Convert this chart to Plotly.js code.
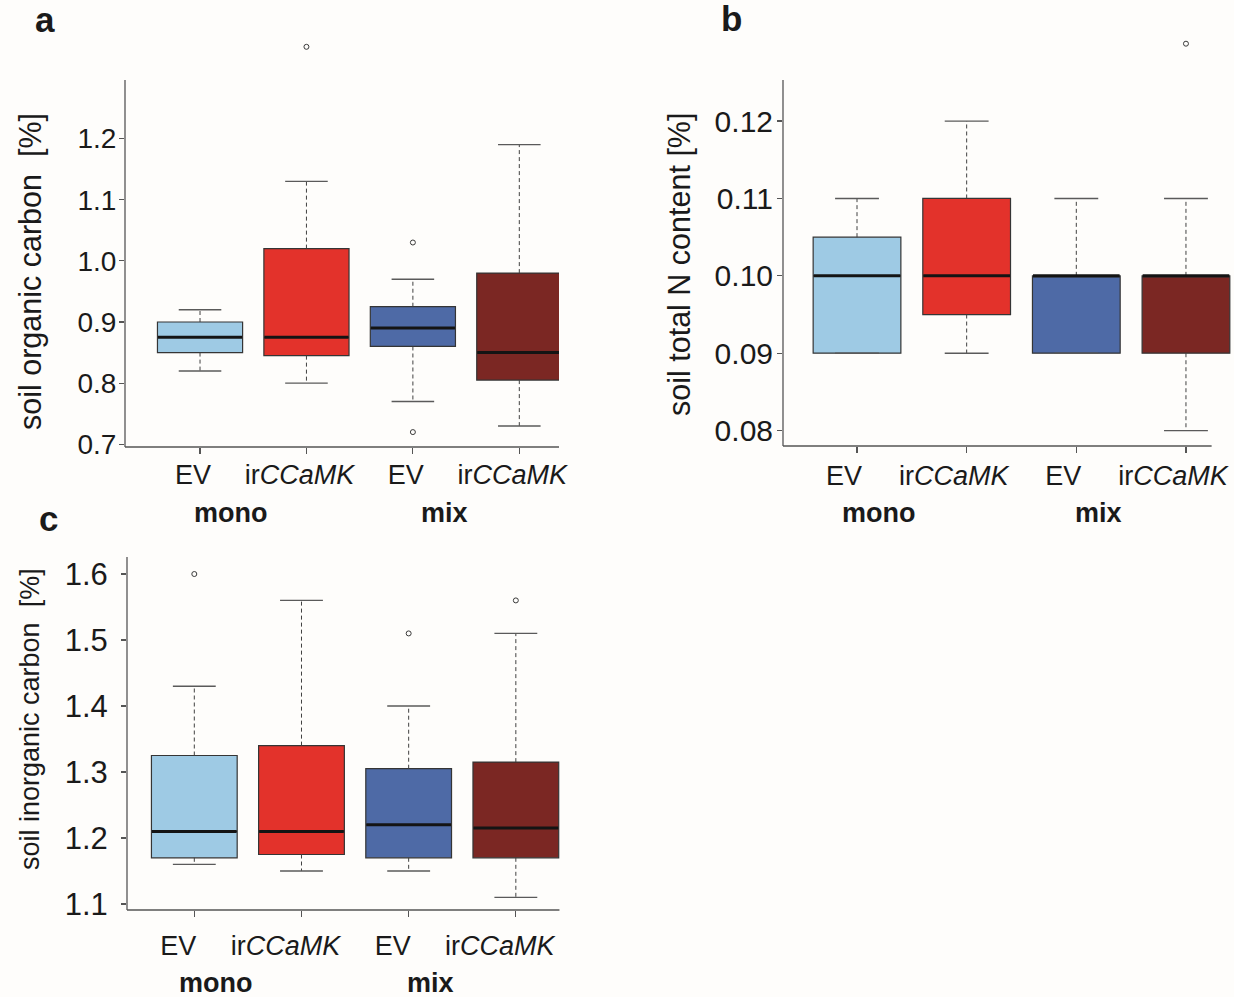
<!DOCTYPE html>
<html><head><meta charset="utf-8">
<script src="https://cdn.plot.ly/plotly-3.0.1.min.js"></script>
<style>html,body{margin:0;padding:0;background:#fefdfb}</style>
</head><body><div id="chart" style="width:1234px;height:997px"></div>
<script>
// ---- data ----
const positions = [1, 2, 3, 4];
const genotypeLabels = ['EV', 'ir<i>CCaMK</i>', 'EV', 'ir<i>CCaMK</i>'];
const plantings = ['mono', 'mix'];
const plantingMembers = [[1, 2], [3, 4]];
const fills = ['#9ecae4', '#e3322b', '#4e6aa6', '#7b2723'];

// a: soil organic carbon [%]
const socLower  = [0.82, 0.80, 0.77, 0.73];
const socQ1     = [0.85, 0.845, 0.86, 0.805];
const socMedian = [0.875, 0.875, 0.89, 0.85];
const socQ3     = [0.90, 1.02, 0.925, 0.98];
const socUpper  = [0.92, 1.13, 0.97, 1.19];
const socOutliers = [[], [1.35], [1.03, 0.72], []];
const socTicks = [0.7, 0.8, 0.9, 1.0, 1.1, 1.2];

// b: soil total N content [%]
const nLower  = [0.09, 0.09, 0.09, 0.08];
const nQ1     = [0.09, 0.095, 0.09, 0.09];
const nMedian = [0.10, 0.10, 0.10, 0.10];
const nQ3     = [0.105, 0.11, 0.10, 0.10];
const nUpper  = [0.11, 0.12, 0.11, 0.11];
const nOutliers = [[], [], [], [0.13]];
const nTicks = [0.08, 0.09, 0.10, 0.11, 0.12];

// c: soil inorganic carbon [%]
const sicLower  = [1.16, 1.15, 1.15, 1.11];
const sicQ1     = [1.17, 1.175, 1.17, 1.17];
const sicMedian = [1.21, 1.21, 1.22, 1.215];
const sicQ3     = [1.325, 1.34, 1.305, 1.315];
const sicUpper  = [1.43, 1.56, 1.40, 1.51];
const sicOutliers = [[1.6], [], [1.51], [1.56]];
const sicTicks = [1.1, 1.2, 1.3, 1.4, 1.5, 1.6];

// ---- layout helpers (pixels -> paper) ----
const W = 1234, H = 997;
const FONT = 'Liberation Sans, Arial, Helvetica, sans-serif';
const px = p => p / W;
const py = p => 1 - p / H;

const panels = [
  { letter: 'a', sfx: '', lower: socLower, q1: socQ1, med: socMedian, q3: socQ3, upper: socUpper, out: socOutliers,
    ticks: socTicks, fmt: '.1f', title: 'soil organic carbon  [%]', titleSize: 30.5, yTickSize: 28, yStand: -3, xStand: -2,
    dx: [125, 559], dy: [30, 447], xr: [0.295, 4.373], yr: [0.6956, 1.3775], yLineTop: 1.2956, lineEnd: 4.373,
    labShift: -7, grpShift: -22, grpY: 513, titleX: 30, titleY: 272, letterXY: [45, 19] },
  { letter: 'b', sfx: '2', lower: nLower, q1: nQ1, med: nMedian, q3: nQ3, upper: nUpper, out: nOutliers,
    ticks: nTicks, fmt: '.2f', title: 'soil total N content [%]', titleSize: 30.5, yTickSize: 30, yStand: -2, xStand: 0,
    dx: [783, 1233], dy: [30, 446], xr: [0.325, 4.429], yr: [0.07801, 0.13177], yLineTop: 0.1253, lineEnd: 4.234,
    labShift: -13, grpShift: -33, grpY: 513, titleX: 680, titleY: 265, letterXY: [732, 18] },
  { letter: 'c', sfx: '3', lower: sicLower, q1: sicQ1, med: sicMedian, q3: sicQ3, upper: sicUpper, out: sicOutliers,
    ticks: sicTicks, fmt: '.1f', title: 'soil inorganic carbon  [%]', titleSize: 27, yTickSize: 31, yStand: 7, xStand: 6,
    dx: [127, 563], dy: [557, 910], xr: [0.372, 4.44], yr: [1.0909, 1.6258], yLineTop: 1.6258, lineEnd: 4.407,
    labShift: -16, grpShift: -32, grpY: 983, titleX: 30, titleY: 719, letterXY: [48, 518] }
];

const traces = [];
const layout = {
  width: W, height: H,
  margin: { l: 0, r: 0, t: 0, b: 0 },
  paper_bgcolor: '#fefdfb', plot_bgcolor: 'rgba(0,0,0,0)',
  showlegend: false,
  font: { family: FONT, color: '#1a1a1a' },
  annotations: [], shapes: []
};

panels.forEach(p => {
  const xa = 'x' + p.sfx, ya = 'y' + p.sfx;
  // box bodies
  positions.forEach((pos, i) => {
    traces.push({
      type: 'box', x: [pos], q1: [p.q1[i]], median: [p.med[i]], q3: [p.q3[i]],
      lowerfence: [p.q1[i]], upperfence: [p.q3[i]], boxpoints: false,
      width: 0.8, whiskerwidth: 0, fillcolor: fills[i],
      line: { color: '#353535', width: 1.2 },
      xaxis: xa, yaxis: ya, hoverinfo: 'skip'
    });
  });
  // dashed whiskers, caps, medians, outliers
  const wx = [], wy = [], cx = [], cy = [], mx = [], my = [], ox = [], oy = [];
  positions.forEach((pos, i) => {
    wx.push(pos, pos, null, pos, pos, null);
    wy.push(p.q3[i], p.upper[i], null, p.q1[i], p.lower[i], null);
    cx.push(pos - 0.2, pos + 0.2, null, pos - 0.2, pos + 0.2, null);
    cy.push(p.upper[i], p.upper[i], null, p.lower[i], p.lower[i], null);
    mx.push(pos - 0.395, pos + 0.395, null);
    my.push(p.med[i], p.med[i], null);
    p.out[i].forEach(v => { ox.push(pos); oy.push(v); });
  });
  traces.push({ type: 'scatter', mode: 'lines', x: wx, y: wy, xaxis: xa, yaxis: ya,
    line: { color: '#404040', width: 1, dash: '4px,3px' }, hoverinfo: 'skip' });
  traces.push({ type: 'scatter', mode: 'lines', x: cx, y: cy, xaxis: xa, yaxis: ya,
    line: { color: '#5a5a5a', width: 1.4 }, hoverinfo: 'skip' });
  traces.push({ type: 'scatter', mode: 'lines', x: mx, y: my, xaxis: xa, yaxis: ya,
    line: { color: '#141414', width: 3 }, hoverinfo: 'skip' });
  traces.push({ type: 'scatter', mode: 'markers', x: ox, y: oy, xaxis: xa, yaxis: ya, cliponaxis: false,
    marker: { symbol: 'circle-open', size: 5, color: '#3a3a3a', line: { width: 1 } }, hoverinfo: 'skip' });

  const xKey = 'xaxis' + p.sfx, yKey = 'yaxis' + p.sfx;
  layout[xKey] = {
    domain: [px(p.dx[0]), px(p.dx[1])], range: p.xr, anchor: ya,
    tickmode: 'array', tickvals: positions, ticktext: genotypeLabels,
    ticks: 'outside', ticklen: 6, tickwidth: 1.2, tickcolor: '#555',
    showline: false, showgrid: false, zeroline: false, fixedrange: true,
    tickfont: { family: FONT, size: 27, color: '#1a1a1a' },
    ticklabelshift: p.labShift, ticklabelstandoff: p.xStand
  };
  layout[yKey] = {
    domain: [py(p.dy[1]), py(p.dy[0])], range: p.yr, anchor: xa,
    tickmode: 'array', tickvals: p.ticks, tickformat: p.fmt,
    ticks: 'outside', ticklen: 5, tickwidth: 1.2, tickcolor: '#555',
    showline: false,
    showgrid: false, zeroline: false, fixedrange: true,
    tickfont: { family: FONT, size: p.yTickSize, color: '#1a1a1a' },
    ticklabelstandoff: p.yStand
  };
  // axis lines (shorter than the plot area, as in the original)
  layout.shapes.push({ type: 'line', xref: xa, yref: ya + ' domain',
    x0: p.xr[0], x1: p.lineEnd, y0: 0, y1: 0, line: { color: '#555', width: 1.3 } });
  layout.shapes.push({ type: 'line', xref: xa + ' domain', yref: ya,
    x0: 0, x1: 0, y0: p.yr[0], y1: p.yLineTop, line: { color: '#555', width: 1.3 } });
  // group labels (mono / mix)
  plantings.forEach((name, g) => {
    const mid = plantingMembers[g].reduce((s, v) => s + v, 0) / plantingMembers[g].length;
    layout.annotations.push({ text: '<b>' + name + '</b>', xref: xa, yref: 'paper',
      x: mid, y: py(p.grpY), xshift: p.grpShift, xanchor: 'center', yanchor: 'middle',
      showarrow: false, font: { family: FONT, size: 27, color: '#1a1a1a' } });
  });
  // y title
  layout.annotations.push({ text: p.title, xref: 'paper', yref: 'paper',
    x: px(p.titleX), y: py(p.titleY), textangle: -90, xanchor: 'center', yanchor: 'middle',
    showarrow: false, font: { family: FONT, size: p.titleSize, color: '#1a1a1a' } });
  // panel letter
  layout.annotations.push({ text: '<b>' + p.letter + '</b>', xref: 'paper', yref: 'paper',
    x: px(p.letterXY[0]), y: py(p.letterXY[1]), xanchor: 'center', yanchor: 'middle',
    showarrow: false, font: { family: FONT, size: 35, color: '#1a1a1a' } });
});

Plotly.newPlot('chart', traces, layout, { staticPlot: true, displayModeBar: false });
</script>
</body></html>
